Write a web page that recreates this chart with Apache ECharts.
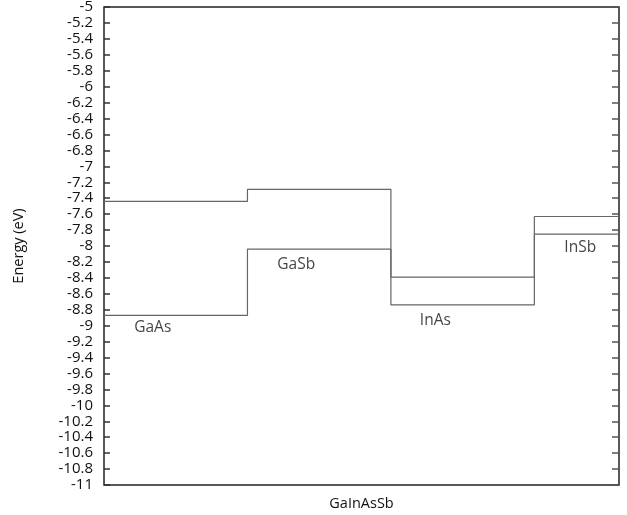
<!DOCTYPE html>
<html>
<head>
<meta charset="utf-8">
<script src="https://cdn.jsdelivr.net/npm/echarts@6/dist/echarts.min.js"></script>
<style>
  html, body { margin: 0; padding: 0; background: #fff; }
  #chart { width: 627px; height: 515px; }
</style>
</head>
<body>
<div id="chart"></div>
<script>
// layer boundaries along the GaInAsSb axis
const bounds = [0, 1, 2, 3, 3.59];
const materials = ['GaAs', 'GaSb', 'InAs', 'InSb'];
const upperBand = [-7.44, -7.29, -8.39, -7.63];
const lowerBand = [-8.87, -8.04, -8.74, -7.85];
// label anchor points (x, energy)
const labelX = [0.34, 1.34, 2.31, 3.32];
const labelY = [-9.02, -8.23, -8.94, -8.02];

const stepData = (vals) => {
    const out = [];
    vals.forEach((v, i) => {
        out.push([bounds[i], v]);
        out.push([bounds[i + 1], v]);
    });
    return out;
};

const chart = echarts.init(document.getElementById('chart'));
const font = 'Open Sans';

const lineStyle = { color: '#666', width: 1.2 };

chart.setOption({
    animation: false,
    textStyle: { fontFamily: font },
    grid: {
        left: 104, right: 8, top: 7, bottom: 30,
        outerBoundsMode: 'none',
        containLabel: false,
        show: true, borderColor: '#222', borderWidth: 1.5
    },
    xAxis: {
        type: 'value',
        min: 0, max: 3.59,
        name: 'GaInAsSb',
        nameLocation: 'middle',
        nameGap: 11,
        nameTextStyle: { fontSize: 14.5, color: '#111', fontFamily: font },
        axisLine: { show: false },
        axisTick: { show: false },
        axisLabel: { show: false },
        splitLine: { show: false }
    },
    yAxis: [
        {
            type: 'value',
            min: -11, max: -5, interval: 0.2,
            name: 'Energy (eV)',
            nameLocation: 'middle',
            nameGap: 78,
            nameTextStyle: { fontSize: 14.5, color: '#111', fontFamily: font },
            axisLine: { show: false },
            axisTick: { show: true, inside: true, length: 6, lineStyle: { color: '#333', width: 1.5 } },
            axisLabel: { fontSize: 15, color: '#111', margin: 11, fontFamily: font },
            splitLine: { show: false }
        },
        {
            type: 'value',
            position: 'right',
            min: -11, max: -5, interval: 0.2,
            axisLine: { show: false },
            axisTick: { show: true, inside: true, length: 7, lineStyle: { color: '#555', width: 1.5 } },
            axisLabel: { show: false },
            splitLine: { show: false }
        }
    ],
    series: [
        {
            type: 'line',
            data: stepData(upperBand),
            symbol: 'none',
            lineStyle: lineStyle
        },
        {
            type: 'line',
            data: stepData(lowerBand),
            symbol: 'none',
            lineStyle: lineStyle
        },
        {
            type: 'scatter',
            symbolSize: 0,
            data: materials.map((m, i) => ({ value: [labelX[i], labelY[i]], name: m })),
            label: {
                show: true,
                position: 'inside',
                formatter: (p) => p.name,
                fontSize: 15.5,
                color: '#111',
                fontFamily: font
            }
        }
    ]
});
</script>
</body>
</html>
